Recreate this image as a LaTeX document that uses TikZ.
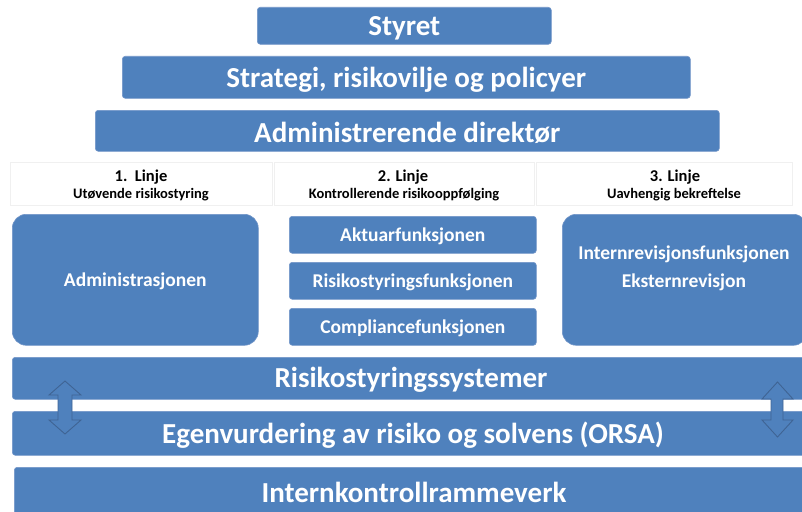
\documentclass[tikz,border=0pt]{standalone}
\usepackage{fontspec}
\setmainfont{Carlito}
\definecolor{boxblue}{HTML}{4F81BD}
\definecolor{edgeblue}{HTML}{7396C8}
\definecolor{arrowline}{HTML}{3F6494}
\definecolor{hdredge}{HTML}{F0F0F0}
\begin{document}
\begin{tikzpicture}[x=1pt,y=-1pt,
  bluebox/.style={fill=boxblue,draw=edgeblue,line width=0.6pt,rounded corners=3pt,inner sep=0pt,anchor=north west},
  bigtxt/.style={text=white,font=\bfseries\fontsize{29}{32}\selectfont,yshift=-2pt},
  midtxt/.style={text=white,font=\bfseries\fontsize{19.5}{28}\selectfont,align=center,yshift=-2pt},
  hdrbox/.style={draw=hdredge,line width=0.5pt,fill=white,inner sep=0pt,anchor=north west},
  hdrtitle/.style={font=\bfseries\fontsize{16.5}{18}\selectfont},
  hdrsub/.style={font=\bfseries\fontsize{14.5}{16}\selectfont},
  dblarrow/.style={fill=boxblue,draw=arrowline,line width=0.9pt}]
\useasboundingbox (0,0) rectangle (802,511);
% top
\node[bluebox,minimum width=294,minimum height=37] (styret) at (257,7) {};
\node[bigtxt] at (styret.center) {Styret};
\node[bluebox,minimum width=568,minimum height=42] (strat) at (122,56) {};
\node[bigtxt] at (strat.center) {Strategi, risikovilje og policyer};
\node[bluebox,minimum width=624,minimum height=41] (adm) at (95,110) {};
\node[bigtxt] at (adm.center) {Administrerende direktør};
% headers
\node[hdrbox,minimum width=262,minimum height=43] (h1) at (10,162) {};
\node[hdrbox,minimum width=260,minimum height=43] (h2) at (274,162) {};
\node[hdrbox,minimum width=256,minimum height=43] (h3) at (536,162) {};
\node[hdrtitle] at (141,177) {1.\ \ Linje};
\node[hdrsub] at (141,195) {Utøvende risikostyring};
\node[hdrtitle] at (403,177) {2. Linje};
\node[hdrsub] at (404,195) {Kontrollerende risikooppfølging};
\node[hdrtitle] at (675,177) {3. Linje};
\node[hdrsub] at (674,195) {Uavhengig bekreftelse};
% columns
\node[bluebox,rounded corners=14pt,minimum width=246,minimum height=131] (admin) at (12,214) {};
\node[midtxt] at (admin.center) {Administrasjonen};
\node[bluebox,minimum width=247,minimum height=37] (akt) at (289,216) {};
\node[midtxt] at (akt.center) {Aktuarfunksjonen};
\node[bluebox,minimum width=247,minimum height=37] (risf) at (289,262) {};
\node[midtxt] at (risf.center) {Risikostyringsfunksjonen};
\node[bluebox,minimum width=247,minimum height=37] (comp) at (289,308) {};
\node[midtxt] at (comp.center) {Compliancefunksjonen};
\node[bluebox,rounded corners=14pt,minimum width=245,minimum height=131] (intrev) at (562,214) {};
\node[midtxt] at (684,266) {Internrevisjonsfunksjonen\\Eksternrevisjon};
% bars
\node[bluebox,minimum width=795,minimum height=42] (rss) at (12,357) {};
\node[bigtxt] at (411,378) {Risikostyringssystemer};
\node[bluebox,minimum width=795,minimum height=44] (orsa) at (12,411) {};
\node[bigtxt] at (413,433) {Egenvurdering av risiko og solvens (ORSA)};
\node[bluebox,minimum width=793,minimum height=50] (ikr) at (14,467) {};
\node[bigtxt] at (414,490) {Internkontrollrammeverk};
% arrows
\draw[dblarrow] (65,381) -- (81,395) -- (72,395) -- (72,420) -- (81,420) -- (65,434) -- (49,420) -- (58,420) -- (58,395) -- (49,395) -- cycle;
\draw[dblarrow] (777.5,382) -- (793,399) -- (783,399) -- (783,420) -- (793,420) -- (777.5,437) -- (762,420) -- (771,420) -- (771,399) -- (762,399) -- cycle;
\end{tikzpicture}
\end{document}
